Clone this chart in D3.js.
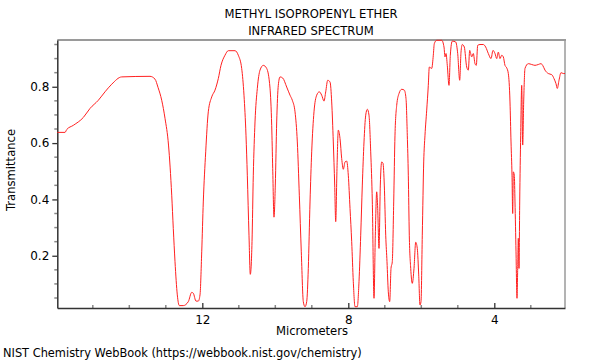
<!DOCTYPE html>
<html><head><meta charset="utf-8">
<script src="https://cdn.jsdelivr.net/npm/d3@7"></script>
<style>body{margin:0;background:#fff}svg{display:block}text{font-family:"DejaVu Sans",sans-serif;fill:#000}</style>
</head><body><svg id="c" width="600" height="360"></svg>
<script>
const title = ["METHYL ISOPROPENYL ETHER", "INFRARED SPECTRUM"];
const xLabel = "Micrometers";
const yLabel = "Transmittance";
const credit = "NIST Chemistry WebBook (https://webbook.nist.gov/chemistry)";
const xTicks = [12, 8, 4];
const yTicks = [0.2, 0.4, 0.6, 0.8];
const xDomain = [15.973, 2.063];
const yDomain = [0.0145, 0.966];
const wavelength = [15.973,15.762,15.715,15.534,15.260,15.077,14.849,14.666,14.482,14.208,13.433,13.296,13.214,13.112,13.022,12.926,12.838,12.795,12.748,12.685,12.630,12.521,12.384,12.290,12.247,12.173,12.110,12.063,12.016,11.973,11.907,11.836,11.742,11.652,11.562,11.488,11.378,11.288,11.104,11.014,10.921,10.858,10.803,10.767,10.721,10.685,10.638,10.603,10.556,10.493,10.419,10.329,10.236,10.145,10.099,10.071,10.036,10.000,9.962,9.918,9.871,9.797,9.688,9.597,9.534,9.460,9.397,9.342,9.288,9.233,9.186,9.140,9.096,9.049,9.003,8.940,8.866,8.795,8.729,8.666,8.619,8.564,8.501,8.455,8.411,8.373,8.345,8.310,8.274,8.227,8.181,8.137,8.090,8.044,8.000,7.953,7.907,7.863,7.816,7.753,7.707,7.660,7.616,7.570,7.523,7.479,7.433,7.386,7.342,7.296,7.260,7.222,7.195,7.159,7.123,7.085,7.049,7.014,6.975,6.940,6.904,6.866,6.830,6.795,6.756,6.721,6.674,6.611,6.537,6.466,6.419,6.384,6.356,6.329,6.290,6.247,6.200,6.153,6.110,6.071,6.036,6.008,5.973,5.934,5.899,5.852,5.808,5.781,5.715,5.671,5.644,5.578,5.441,5.378,5.351,5.323,5.288,5.241,5.205,5.151,5.058,5.003,4.948,4.912,4.877,4.822,4.756,4.712,4.674,4.619,4.575,4.529,4.493,4.455,4.392,4.301,4.236,4.164,4.090,4.036,3.981,3.934,3.890,3.844,3.797,3.753,3.707,3.660,3.616,3.570,3.542,3.515,3.496,3.479,3.452,3.433,3.405,3.378,3.359,3.342,3.323,3.304,3.277,3.249,3.222,3.195,3.159,3.068,2.975,2.885,2.795,2.721,2.674,2.611,2.521,2.427,2.364,2.310,2.274,2.227,2.173,2.110,2.063];
const transmittance = [0.638,0.638,0.648,0.663,0.691,0.723,0.752,0.782,0.809,0.835,0.837,0.827,0.798,0.752,0.688,0.593,0.415,0.297,0.179,0.061,0.023,0.023,0.037,0.070,0.067,0.039,0.039,0.061,0.214,0.391,0.569,0.711,0.764,0.788,0.829,0.876,0.912,0.928,0.928,0.912,0.865,0.770,0.628,0.486,0.273,0.134,0.250,0.486,0.675,0.794,0.859,0.876,0.865,0.795,0.663,0.510,0.337,0.451,0.675,0.805,0.835,0.831,0.799,0.770,0.752,0.711,0.604,0.415,0.214,0.037,0.019,0.037,0.155,0.391,0.569,0.711,0.770,0.782,0.770,0.749,0.782,0.823,0.817,0.746,0.604,0.451,0.321,0.510,0.646,0.616,0.545,0.507,0.533,0.536,0.486,0.368,0.250,0.108,0.019,0.019,0.108,0.273,0.451,0.604,0.699,0.720,0.699,0.569,0.391,0.049,0.273,0.427,0.368,0.226,0.451,0.533,0.528,0.451,0.273,0.179,0.072,0.037,0.155,0.179,0.391,0.628,0.734,0.776,0.791,0.788,0.758,0.628,0.486,0.273,0.155,0.102,0.155,0.248,0.226,0.132,0.025,0.037,0.273,0.533,0.628,0.717,0.805,0.870,0.865,0.912,0.953,0.965,0.965,0.941,0.906,0.918,0.876,0.805,0.912,0.962,0.959,0.918,0.823,0.923,0.950,0.941,0.870,0.859,0.929,0.906,0.918,0.882,0.876,0.947,0.950,0.950,0.941,0.918,0.900,0.929,0.918,0.900,0.923,0.900,0.912,0.906,0.876,0.867,0.847,0.746,0.604,0.486,0.350,0.498,0.486,0.391,0.214,0.049,0.155,0.262,0.155,0.391,0.628,0.805,0.593,0.746,0.865,0.882,0.879,0.876,0.879,0.882,0.876,0.859,0.847,0.843,0.829,0.811,0.794,0.823,0.850,0.847,0.847];

const svg = d3.select("#c");
const L = 57.3, R = 565, T = 40, B = 308;
const x = d3.scaleLinear().domain(xDomain).range([L, R]);
const y = d3.scaleLinear().domain(yDomain).range([B, T]);

// title
svg.selectAll("text.title").data(title).join("text")
  .attr("x", 311).attr("y", (d, i) => 17.5 + i * 17).attr("text-anchor", "middle")
  .attr("font-size", 11.6).text(d => d);

// frame top / right (gray)
svg.append("line").attr("x1", L).attr("x2", R + 1).attr("y1", T).attr("y2", T)
  .attr("stroke", "#9a9a9a").attr("stroke-width", 2);
svg.append("line").attr("x1", R).attr("x2", R).attr("y1", T).attr("y2", B)
  .attr("stroke", "#9a9a9a").attr("stroke-width", 1.5);

// minor ticks
const xMinor = d3.range(15, 2, -1).filter(v => !xTicks.includes(v));
svg.append("g").selectAll("line").data(xMinor).join("line")
  .attr("x1", d => x(d)).attr("x2", d => x(d)).attr("y1", B).attr("y2", B - 3)
  .attr("stroke", "#888").attr("stroke-width", 1.5);
const yMinor = d3.range(0.05, 0.96, 0.05).map(v => +v.toFixed(2)).filter(v => !yTicks.some(t => Math.abs(t - v) < 1e-6));
svg.append("g").selectAll("line").data(yMinor).join("line")
  .attr("x1", L - 3).attr("x2", L).attr("y1", d => y(d)).attr("y2", d => y(d))
  .attr("stroke", "#888").attr("stroke-width", 1.5);

// x axis
const gx = svg.append("g").attr("transform", `translate(0,${B})`)
  .call(d3.axisBottom(x).tickValues(xTicks).tickSizeInner(-5).tickSizeOuter(0).tickPadding(7).tickFormat(d3.format("d")));
gx.select(".domain").attr("stroke", "#333").attr("stroke-width", 1.5);
gx.selectAll(".tick line").attr("stroke", "#333").attr("stroke-width", 1.3);
gx.selectAll(".tick text").attr("font-size", 12).attr("font-family", "DejaVu Sans").attr("fill", "#000");

// y axis
const gy = svg.append("g").attr("transform", `translate(${L},0)`)
  .call(d3.axisLeft(y).tickValues(yTicks).tickSizeInner(5).tickSizeOuter(0).tickPadding(3).tickFormat(d3.format(".1f")));
gy.select(".domain").attr("stroke", "#333").attr("stroke-width", 1.5);
gy.selectAll(".tick line").attr("stroke", "#333").attr("stroke-width", 1.3);
gy.selectAll(".tick text").attr("font-size", 12).attr("font-family", "DejaVu Sans").attr("fill", "#000");

// spectrum line
const pts = wavelength.map((w, i) => [w, transmittance[i]]);
svg.append("path").datum(pts)
  .attr("fill", "none").attr("stroke", "#ff2020").attr("stroke-width", 1)
  .attr("d", d3.line().x(d => x(d[0])).y(d => y(d[1])).curve(d3.curveMonotoneX));

// axis labels
svg.append("text").attr("x", 312).attr("y", 335).attr("text-anchor", "middle")
  .attr("font-size", 11.6).text(xLabel);
svg.append("text").attr("transform", "translate(15,170) rotate(-90)").attr("text-anchor", "middle")
  .attr("font-size", 11.6).text(yLabel);
svg.append("text").attr("x", 3).attr("y", 357).attr("font-size", 11.4).text(credit);
</script></body></html>
